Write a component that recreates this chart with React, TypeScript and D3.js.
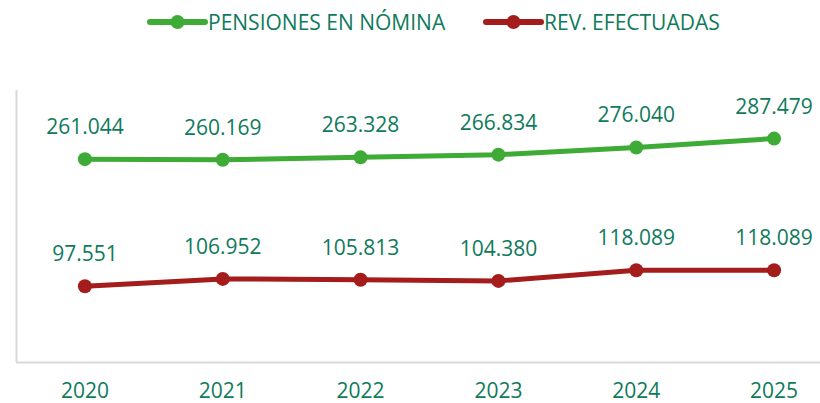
import React, { useRef, useEffect } from "react";
import { select, scaleBand, scaleLinear, line } from "d3";

const years = ["2020", "2021", "2022", "2023", "2024", "2025"];
const pensiones = [261044, 260169, 263328, 266834, 276040, 287479];
const revisiones = [97551, 106952, 105813, 104380, 118089, 118089];
const seriesNames = ["PENSIONES EN NÓMINA", "REV. EFECTUADAS"];
const seriesColors = ["#3dab35", "#a51c1c"];

const TEXT = "#0f7a5c";
const FONT = "'Open Sans', sans-serif";

function LineChart() {
  const svgRef = useRef(null);

  useEffect(() => {
    const svg = select(svgRef.current);
    svg.selectAll("*").remove();

    const xScale = scaleBand().domain(years).range([16, 843]);
    const yScale = scaleLinear().domain([0, 350000]).range([362, 90]);
    const cx = (d) => xScale(d) + xScale.bandwidth() / 2;

    // frame (left + bottom)
    svg.append("line")
      .attr("x1", 16.5).attr("x2", 16.5).attr("y1", 90).attr("y2", 362)
      .attr("stroke", "#d9d9d9").attr("stroke-width", 2);
    svg.append("line")
      .attr("x1", 16).attr("x2", 820).attr("y1", 362.5).attr("y2", 362.5)
      .attr("stroke", "#d9d9d9").attr("stroke-width", 2);

    // year labels
    svg.selectAll(".year")
      .data(years)
      .join("text")
      .attr("class", "year")
      .attr("x", (d) => cx(d))
      .attr("y", 398)
      .attr("text-anchor", "middle")
      .attr("fill", TEXT)
      .style("font-family", FONT)
      .style("font-size", "21px")
      .text((d) => d);

    const allSeries = [pensiones, revisiones];
    const fmt = (v) => {
      const s = String(v);
      return s.slice(0, s.length - 3) + "." + s.slice(-3);
    };

    allSeries.forEach((values, si) => {
      const pts = values.map((v, i) => ({ year: years[i], v }));
      const lineGen = line()
        .x((d) => cx(d.year))
        .y((d) => yScale(d.v));

      svg.append("path")
        .datum(pts)
        .attr("d", lineGen)
        .attr("fill", "none")
        .attr("stroke", seriesColors[si])
        .attr("stroke-width", 5)
        .attr("stroke-linejoin", "round");

      svg.selectAll(`.dot${si}`)
        .data(pts)
        .join("circle")
        .attr("class", `dot${si}`)
        .attr("cx", (d) => cx(d.year))
        .attr("cy", (d) => yScale(d.v))
        .attr("r", 7)
        .attr("fill", seriesColors[si]);

      svg.selectAll(`.lbl${si}`)
        .data(pts)
        .join("text")
        .attr("class", `lbl${si}`)
        .attr("x", (d) => cx(d.year))
        .attr("y", (d) => yScale(d.v) - 25)
        .attr("text-anchor", "middle")
        .attr("fill", TEXT)
        .style("font-family", FONT)
        .style("font-size", "21px")
        .text((d) => fmt(d.v));
    });

    // legend
    const legendX = [150, 486];
    seriesNames.forEach((name, i) => {
      const g = svg.append("g").attr("transform", `translate(${legendX[i]},22)`);
      g.append("line")
        .attr("x1", 0).attr("x2", 55).attr("y1", 0).attr("y2", 0)
        .attr("stroke", seriesColors[i]).attr("stroke-width", 6)
        .attr("stroke-linecap", "round");
      g.append("circle").attr("cx", 27.5).attr("cy", 0).attr("r", 7)
        .attr("fill", seriesColors[i]);
      g.append("text")
        .attr("x", 58).attr("y", 8)
        .attr("fill", TEXT)
        .style("font-family", FONT)
        .style("font-size", "21px")
        .text(name);
    });
  }, []);

  return <svg ref={svgRef} width={820} height={403} style={{ position: "absolute", left: 0, top: 0 }}></svg>;
}

export default function App() {
  return <LineChart />;
}
